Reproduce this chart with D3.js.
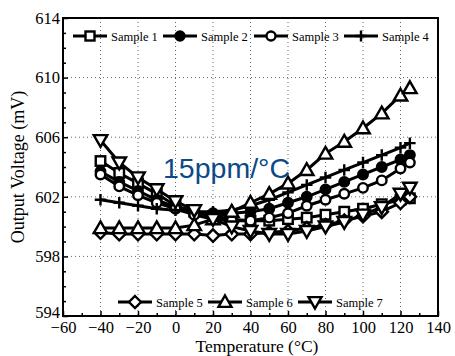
<!DOCTYPE html>
<html lang="en">
<head>
  <meta charset="UTF-8" />
  <title>Output voltage vs temperature</title>
  <script src="https://cdn.jsdelivr.net/npm/d3@7/dist/d3.min.js"></script>
  <style>
    body { margin: 0; background: #fff; }
  </style>
</head>
<body>
  <svg width="455" height="356"></svg>

  <script>
    // temperatures (°C)
    const temps = [-40, -30, -20, -10, 0, 10, 20, 30, 40, 50, 60, 70, 80, 90, 100, 110, 120, 125];

    // output voltage (mV) for each sample
    const sample1 = [604.4, 603.6, 602.9, 602.2, 601.4, 601.0, 600.7, 600.5, 600.4, 600.4, 600.5, 600.6, 600.8, 601.0, 601.2, 601.5, 601.8, 601.9];
    const sample2 = [603.7, 603.0, 602.4, 601.8, 601.3, 601.0, 600.9, 600.9, 601.0, 601.2, 601.6, 602.0, 602.5, 603.0, 603.5, 604.0, 604.5, 604.8];
    const sample3 = [603.5, 602.7, 602.1, 601.6, 601.2, 600.8, 600.5, 600.4, 600.4, 600.6, 600.9, 601.4, 601.8, 602.2, 602.6, 603.1, 603.9, 604.3];
    const sample4 = [601.8, 601.6, 601.4, 601.2, 601.1, 601.0, 601.0, 601.1, 601.4, 601.8, 602.3, 602.8, 603.3, 603.8, 604.3, 604.8, 605.3, 605.6];
    const sample5 = [599.6, 599.5, 599.5, 599.5, 599.5, 599.5, 599.4, 599.5, 599.5, 599.6, 599.7, 599.9, 600.1, 600.4, 600.7, 601.0, 601.6, 602.0];
    const sample6 = [599.9, 599.9, 599.9, 599.9, 599.9, 600.1, 600.5, 601.0, 601.6, 602.2, 602.9, 603.8, 604.9, 605.7, 606.6, 607.6, 608.8, 609.3];
    const sample7 = [605.8, 604.3, 603.3, 602.5, 601.7, 601.1, 600.5, 600.0, 599.7, 599.5, 599.5, 599.7, 600.0, 600.3, 600.8, 601.3, 602.2, 602.6];

    const names = ['Sample 1', 'Sample 2', 'Sample 3', 'Sample 4', 'Sample 5', 'Sample 6', 'Sample 7'];
    const markers = ['square', 'dot', 'circle', 'plus', 'diamond', 'up', 'down'];
    const allSeries = [sample1, sample2, sample3, sample4, sample5, sample6, sample7];

    const xTicks = [-60, -40, -20, 0, 20, 40, 60, 80, 100, 120, 140];
    const yTicks = [594, 598, 602, 606, 610, 614];

    const serif = "'Liberation Serif', 'Times New Roman', Times, serif";
    const svg = d3.select('svg');
    const pLeft = 63, pRight = 438, pTop = 18, pBottom = 316;

    const x = d3.scaleLinear().domain([-60, 140]).range([pLeft, pRight]);
    const y = d3.scaleLinear().domain([594, 614]).range([pBottom, pTop]);

    // dotted grid
    const grid = svg.append('g').attr('stroke', '#666').attr('stroke-width', 1).attr('stroke-dasharray', '1,3');
    grid.selectAll('.gx').data(xTicks.slice(1, -1)).enter().append('line')
      .attr('x1', d => x(d)).attr('x2', d => x(d)).attr('y1', pTop).attr('y2', pBottom);
    grid.selectAll('.gy').data(yTicks.slice(1, -1)).enter().append('line')
      .attr('x1', pLeft).attr('x2', pRight).attr('y1', d => y(d)).attr('y2', d => y(d));

    // axes (ticks inward)
    const xAxis = d3.axisBottom(x).tickValues(xTicks).tickSize(-5).tickPadding(5)
      .tickFormat(d => d < 0 ? '\u2212' + Math.abs(d) : d);
    svg.append('g').attr('transform', `translate(0,${pBottom})`).call(xAxis);
    const xMinor = d3.axisBottom(x).tickValues(d3.range(-50, 140, 20)).tickSize(-3).tickFormat('');
    svg.append('g').attr('transform', `translate(0,${pBottom})`).call(xMinor);

    const yAxis = d3.axisLeft(y).tickValues(yTicks).tickSize(-5).tickPadding(3);
    svg.append('g').attr('transform', `translate(${pLeft},0)`).call(yAxis);
    const yMinor = d3.axisLeft(y).tickValues(d3.range(595, 614, 1).filter(v => !yTicks.includes(v))).tickSize(-3).tickFormat('');
    svg.append('g').attr('transform', `translate(${pLeft},0)`).call(yMinor);

    svg.selectAll('.domain').remove();
    svg.selectAll('.tick line').attr('stroke', '#000').attr('stroke-width', 1.5);
    svg.selectAll('.tick text').attr('font-size', 16.5).attr('fill', '#000').attr('font-family', serif);
    // lift the 594 label a bit so it clears the -60 label
    svg.selectAll('.tick text').filter(d => d === 594).attr('dy', '0.1em');

    svg.append('rect').attr('x', pLeft).attr('y', pTop).attr('width', pRight - pLeft).attr('height', pBottom - pTop)
      .attr('fill', 'none').attr('stroke', '#000').attr('stroke-width', 2);

    // axis titles
    svg.append('text').attr('x', 257).attr('y', 352).attr('text-anchor', 'middle')
      .attr('font-family', serif).attr('font-size', 17.5).text('Temperature (°C)');
    svg.append('text').attr('transform', `translate(24,${(pTop + pBottom) / 2}) rotate(-90)`)
      .attr('text-anchor', 'middle').attr('font-family', serif).attr('font-size', 18).text('Output Voltage (mV)');

    // marker drawing
    function drawMarker(g, type, cx, cy, s) {
      const h = s / 2;
      let el;
      if (type === 'square') {
        el = g.append('rect').attr('x', cx - h).attr('y', cy - h).attr('width', s).attr('height', s);
      } else if (type === 'dot' || type === 'circle') {
        el = g.append('circle').attr('cx', cx).attr('cy', cy).attr('r', h);
      } else if (type === 'plus') {
        el = g.append('path').attr('d', `M${cx - h - 1},${cy}H${cx + h + 1}M${cx},${cy - h - 1}V${cy + h + 1}`);
      } else if (type === 'diamond') {
        const r = h + 1.5;
        el = g.append('path').attr('d', `M${cx},${cy - r}L${cx + r},${cy}L${cx},${cy + r}L${cx - r},${cy}Z`);
      } else if (type === 'up') {
        const r = h + 2;
        el = g.append('path').attr('d', `M${cx},${cy - r}L${cx + r},${cy + r * 0.75}L${cx - r},${cy + r * 0.75}Z`);
      } else {
        const r = h + 2;
        el = g.append('path').attr('d', `M${cx},${cy + r}L${cx + r},${cy - r * 0.75}L${cx - r},${cy - r * 0.75}Z`);
      }
      el.attr('stroke', '#000').attr('stroke-width', 2.4).attr('fill', '#fff');
      if (type === 'dot') el.attr('fill', '#000');
      if (type === 'plus') el.attr('fill', 'none');
    }

    const line = d3.line().x(d => x(d[0])).y(d => y(d[1]));
    const plot = svg.append('g');
    allSeries.forEach((vals, i) => {
      const pts = temps.map((t, j) => [t, vals[j]]);
      const g = plot.append('g');
      g.append('path').datum(pts).attr('d', line).attr('fill', 'none')
        .attr('stroke', '#000').attr('stroke-width', 3);
      pts.forEach(p => drawMarker(g, markers[i], x(p[0]), y(p[1]), 9.5));
    });

    // annotation
    svg.append('text').attr('x', 163).attr('y', 178)
      .attr('font-family', "'Liberation Sans', Arial, sans-serif").attr('font-size', 28.5)
      .attr('fill', '#0b4a87').text('15ppm/°C');

    // legends (top row: samples 1-4, bottom row: samples 5-7)
    const legendPos = [
      [73, 36], [163, 36], [254, 36], [344, 36],
      [118, 302], [208, 302], [298, 302]
    ];
    names.forEach((name, i) => {
      const [lx, ly] = legendPos[i];
      const g = svg.append('g');
      g.append('line').attr('x1', lx).attr('x2', lx + 34).attr('y1', ly).attr('y2', ly)
        .attr('stroke', '#000').attr('stroke-width', 3);
      drawMarker(g, markers[i], lx + 17, ly, 9);
      g.append('text').attr('x', lx + 38).attr('y', ly + 4.5)
        .attr('font-family', serif).attr('font-size', 12.5).text(name);
    });
  </script>
</body>
</html>
